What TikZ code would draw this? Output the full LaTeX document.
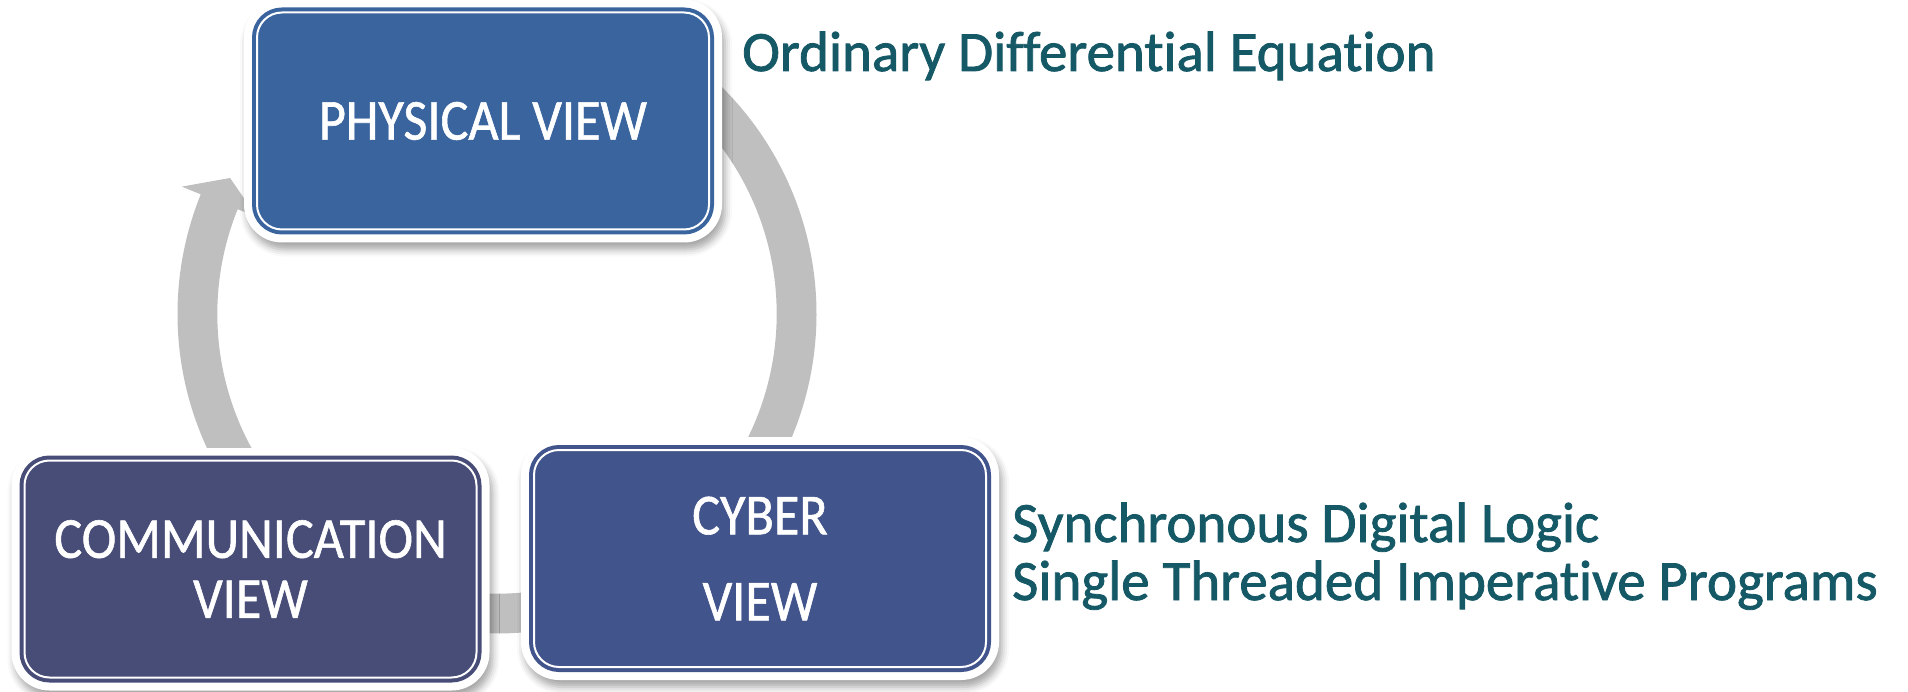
\documentclass[tikz,border=0pt]{standalone}
\usepackage{fontspec}
\setmainfont{Carlito}[Ligatures=NoCommon, FakeBold=1.4]
\newfontfamily\boxfont{Carlito}[Ligatures=NoCommon, FakeStretch=0.9, FakeBold=1]
\usetikzlibrary{calc,shadows.blur}

\definecolor{ringgray}{RGB}{191,191,191}
\definecolor{physblue}{RGB}{58,100,158}
\definecolor{commblue}{RGB}{72,77,120}
\definecolor{cyberblue}{RGB}{66,84,140}
\definecolor{noteteal}{RGB}{21,88,102}

\begin{document}
\begin{tikzpicture}[x=1pt,y=-1pt,
  ring/.style={fill=ringgray},
  frame/.style={fill=white, rounded corners=38pt, minimum width=478pt,
    minimum height=243pt, inner sep=0pt,
    blur shadow={shadow xshift=3pt, shadow yshift=-7pt,
      shadow blur radius=7pt, shadow opacity=35}},
  viewbox/.style={fill=#1, draw=#1, line width=4pt, double=white,
    double distance=2pt, rounded corners=25pt, minimum width=452pt,
    minimum height=217pt, inner sep=0pt, text=white, align=center,
    font=\boxfont\fontsize{58}{60}\selectfont},
  note/.style={anchor=base west, inner sep=0pt, text=noteteal,
    font=\fontsize{57}{57}\selectfont}]

\useasboundingbox (0,0) rectangle (1908,692);
\coordinate (hub) at (497,314);

% cycle ring: right arc (physical -> cyber)
\begin{scope}
  \clip (0,0) rectangle (1908,437);
  \fill[ring] ($(hub)+(300:279.7)$) arc[start angle=300, end angle=392, radius=279.7]
    -- ($(hub)+(392:319.5)$) arc[start angle=392, end angle=300, radius=319.5] -- cycle;
\end{scope}
% bottom arc (cyber -> communication)
\fill[ring] ($(hub)+(75:279.7)$) arc[start angle=75, end angle=105, radius=279.7]
  -- ($(hub)+(105:319.5)$) arc[start angle=105, end angle=75, radius=319.5] -- cycle;
% left arc with head (communication -> physical)
\begin{scope}
  \clip (0,0) rectangle (1908,447);
  \fill[ring] ($(hub)+(150:279.7)$) arc[start angle=150, end angle=202, radius=279.7]
    -- ($(hub)+(202:259)$) -- ($(hub)+(207:299.6)$) -- ($(hub)+(202:340)$)
    -- ($(hub)+(202:319.5)$) arc[start angle=202, end angle=150, radius=319.5] -- cycle;
\end{scope}

% white frames with soft shadows
\node[frame] (physframe) at (483,121) {};
\node[frame] (commframe) at (250.5,569) {};
\node[frame] (cyberframe) at (760,558.5) {};

% the three views
\node[viewbox=physblue] (phys) at (physframe) {PHYSICAL VIEW};
\node[viewbox=commblue] (comm) at (commframe) {COMMUNICATION\\VIEW};
\node[viewbox=cyberblue] (cyber) at (cyberframe) {CYBER\\[26pt]VIEW};

% annotations
\node[note] (odenote) at (742,71) {Ordinary Differential Equation};
\node[note] (syncnote) at (1012,542) {Synchronous Digital Logic};
\node[note] (prognote) at (1012,600) {Single Threaded Imperative Programs};
\end{tikzpicture}
\end{document}
